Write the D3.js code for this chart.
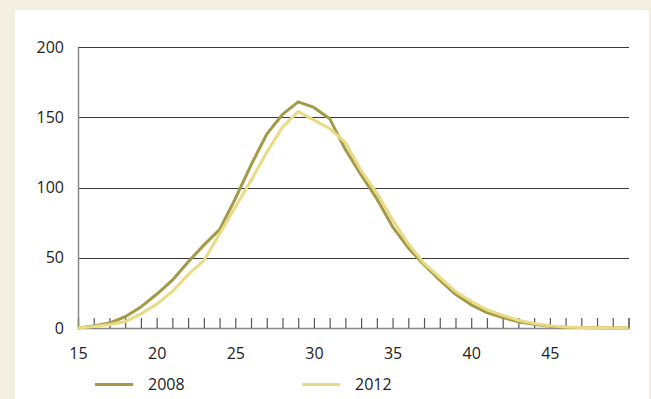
<!DOCTYPE html>
<html><head><meta charset="utf-8">
<script src="https://cdn.jsdelivr.net/npm/d3@7"></script>
<style>
html,body{margin:0;padding:0;background:#f2eee0;}
svg{display:block;}
text{font-family:"Open Sans","Noto Sans",sans-serif;font-size:16px;fill:#222;}
</style></head><body>
<svg id="c" width="651" height="399"></svg>
<script>
const ages = d3.range(15, 51);
const series2008 = [0,1.5,3.5,8,15,24,34,47,59,70,92,116,138,152,161,157,149,127,109,92,72,57,45,34,24,16.5,11,7.5,4.5,2.6,1.3,0.6,0.3,0.1,0,0];
const series2012 = [0,1,2.5,4.5,10,17,26,38,48,67,86,105,125,143,154,148,142,132,112,96,77,60,46,36,26,19,13,9,5.5,3.2,1.6,0.7,0.3,0.1,0,0];
const yTicks = [0,50,100,150,200];
const xTickLabels = [15,20,25,30,35,40,45];
const seriesNames = ["2008","2012"];
const colors = ["#a39a48","#e9da84"];

const svg = d3.select("#c");
svg.append("rect").attr("x",15).attr("y",10).attr("width",634).attr("height",389).attr("fill","#ffffff");

const x = d3.scaleLinear().domain([15,50]).range([78,628.5]);
const y = d3.scaleLinear().domain([0,200]).range([328,47]);

// gridlines
svg.append("g").selectAll("line").data(yTicks.filter(d=>d>0)).join("line")
  .attr("x1",78).attr("x2",629).attr("y1",d=>Math.round(y(d))+0.5).attr("y2",d=>Math.round(y(d))+0.5)
  .attr("stroke","#3a3a3a").attr("stroke-width",1);

// y axis
const yAxis = d3.axisLeft(y).tickValues(yTicks).tickSize(0).tickPadding(14).tickFormat(d3.format("d"));
const gy = svg.append("g").attr("transform","translate(78,0)").call(yAxis);
gy.select(".domain").attr("stroke","#888").attr("stroke-width",1.5);
gy.selectAll("text").attr("font-family",null).attr("font-size",null).attr("fill",null);

// x axis with minor ticks pointing up
const xAxisTicks = d3.axisTop(x).tickValues(d3.range(16,51)).tickSize(10).tickFormat("");
const gx = svg.append("g").attr("transform","translate(0,328)").call(xAxisTicks);
gx.select(".domain").attr("stroke","#888").attr("stroke-width",1.5);
gx.selectAll(".tick line").attr("stroke","#555").attr("stroke-width",1.2);

const xLabels = d3.axisBottom(x).tickValues(xTickLabels).tickSize(0).tickPadding(20).tickFormat(d3.format("d"));
const gxl = svg.append("g").attr("transform","translate(0,328)").call(xLabels);
gxl.select(".domain").remove();
gxl.selectAll("text").attr("font-family",null).attr("font-size",null).attr("fill",null);

// lines
const line = d3.line().x((d,i)=>x(ages[i])).y(d=>y(d));
[series2008, series2012].forEach((s,i)=>{
  svg.append("path").datum(s).attr("d",line).attr("fill","none")
    .attr("stroke",colors[i]).attr("stroke-width",3).attr("stroke-linejoin","round");
});
// legend
const legX = [95,302];
seriesNames.forEach((n,i)=>{
  svg.append("line").attr("x1",legX[i]).attr("x2",legX[i]+38).attr("y1",384.5).attr("y2",384.5)
    .attr("stroke",colors[i]).attr("stroke-width",3);
  svg.append("text").attr("x",legX[i]+53).attr("y",390).text(n);
});
</script>
</body></html>
